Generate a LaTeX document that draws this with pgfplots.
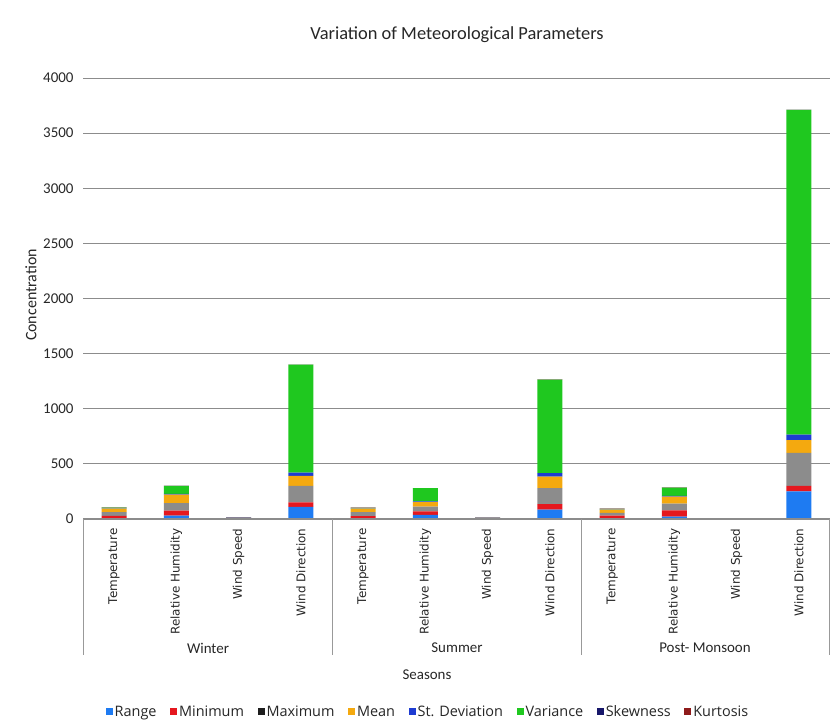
\documentclass[border=0pt]{standalone}
\usepackage{pgfplots}
\pgfplotsset{compat=1.18}
\usepackage{pgfplotstable}
\usepackage{fontspec}
\setmainfont{Carlito}
\newfontfamily\catfont{DejaVu Sans}
\newfontfamily\legfont{Open Sans}

\definecolor{cRange}{HTML}{1E7BF2}
\definecolor{cMin}{HTML}{E5171E}
\definecolor{cMax}{HTML}{8C8C8C}
\definecolor{cMaxKey}{HTML}{1E1E1E}
\definecolor{cMean}{HTML}{F4A90F}
\definecolor{cSD}{HTML}{1E3CD2}
\definecolor{cVar}{HTML}{1FC81F}
\definecolor{cSkew}{HTML}{17176A}
\definecolor{cKurt}{HTML}{8E1B1B}
\definecolor{txt}{HTML}{262626}

% descriptive statistics per season and parameter
% 0-3 Winter, 4-7 Summer, 8-11 Post-Monsoon
\pgfplotstableread{
x  Range Minimum Maximum Mean SD  Variance Skewness Kurtosis
0  3     25      35      30   3   8        0.2      1
1  30    45      70      75   8   72       0.2      1
2  3     2       4       2    1   1        0.1      1
3  110   40      150     90   30  980      0.2      1
4  2     25      36      30   3   5        0.2      1
5  38    30      45      40   6   120      0.2      1
6  2     2       3       2    1   1        0.1      1
7  85    50      145     105  30  850      0.2      1
8  2     28      25      30   3   4        0.2      1
9  22    56      62      64   6   75       0.2      1
10 0.5   0.3     0.8     0.5  0.2 0.1      0.0      0.5
11 250   50      300     115  50  2945     0.2      1
}\stats

\pgfplotsset{
  seg/.style={fill=#1, draw=none,
    legend image code/.code={\fill[#1] (0bp,-3.5bp) rectangle (7bp,3.5bp);}},
}

\begin{document}
\begin{tikzpicture}[x=1bp,y=1bp]
\useasboundingbox (0,0) rectangle (830,727);
\begin{axis}[
  at={(83bp,208bp)}, anchor=south west,
  scale only axis, width=747bp, height=441bp,
  ybar stacked, bar width=25bp,
  xmin=-0.5, xmax=11.5, ymin=0, ymax=4000,
  ytick={0,500,...,4000},
  xtick={0,...,11},
  xticklabels={Temperature,Relative Humidity,Wind Speed,Wind Direction,
               Temperature,Relative Humidity,Wind Speed,Wind Direction,
               Temperature,Relative Humidity,Wind Speed,Wind Direction},
  xticklabel style={rotate=90, anchor=east, text=txt,
    font=\catfont\fontsize{12}{14}\selectfont, xshift=-6bp},
  yticklabel style={font=\fontsize{15}{16}\selectfont, text=txt, xshift=-6bp},
  /pgf/number format/assume math mode=true,
  scaled y ticks=false,
  y tick label style={/pgf/number format/1000 sep={}},
  major tick length=0pt,
  ymajorgrids, grid style={black!45, line width=0.9bp},
  axis line style={draw=none},
  clip=false,
  legend columns=8,
  legend style={at={(0.4618,-0.4376)}, anchor=center, draw=none, fill=none,
    font=\legfont\fontsize{14.5}{16}\selectfont, text=txt,
    /tikz/every even column/.append style={column sep=11.5bp},
    /tikz/every odd column/.append style={column sep=0bp}},
]
\addplot[seg=cRange]    table[x=x, y=Range]    {\stats};
\addplot[seg=cMin]      table[x=x, y=Minimum]  {\stats};
\addplot[fill=cMax, draw=none,
  legend image code/.code={\fill[cMaxKey] (0bp,-3.5bp) rectangle (7bp,3.5bp);}]
                        table[x=x, y=Maximum]  {\stats};
\addplot[seg=cMean]     table[x=x, y=Mean]     {\stats};
\addplot[seg=cSD]       table[x=x, y=SD]       {\stats};
\addplot[seg=cVar]      table[x=x, y=Variance] {\stats};
\addplot[seg=cSkew]     table[x=x, y=Skewness] {\stats};
\addplot[seg=cKurt]     table[x=x, y=Kurtosis] {\stats};
\legend{Range,Minimum,Maximum,Mean,St. Deviation,Variance,Skewness,Kurtosis}
\end{axis}

% category axis and season brackets
\draw[black!45, line width=1bp] (83,208) -- (830,208);
\foreach \sx in {83,332,581,829}
  \draw[black!40, line width=0.8bp] (\sx,208) -- (\sx,72);
\node[text=txt, font=\fontsize{15}{16}\selectfont] at (208,79) {Winter};
\node[text=txt, font=\fontsize{15}{16}\selectfont] at (457,79) {Summer};
\node[text=txt, font=\fontsize{15}{16}\selectfont] at (705,79) {Post- Monsoon};
\node[text=txt, font=\fontsize{15}{16}\selectfont] at (427,52) {Seasons};

% title and value axis label
\node[text=txt, font=\fontsize{18.5}{20}\selectfont] at (457,692)
  {Variation of Meteorological Parameters};
\node[text=txt, font=\fontsize{16}{18}\selectfont, rotate=90] at (31,432)
  {Concentration};
\end{tikzpicture}
\end{document}
